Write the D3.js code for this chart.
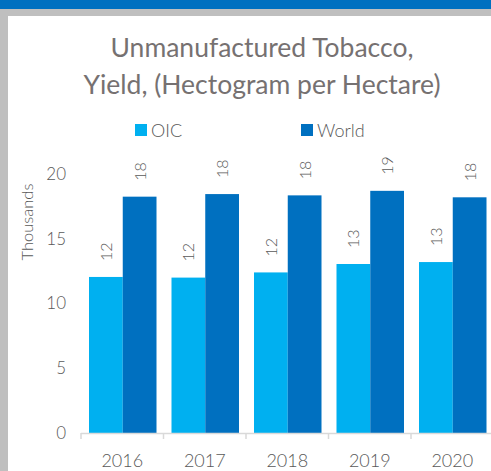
<!DOCTYPE html>
<html><head><meta charset="utf-8">
<script src="https://cdn.jsdelivr.net/npm/d3@7"></script>
<style>body{margin:0;background:#fff}svg{display:block}</style>
</head><body>
<script>
const categories = ["2016","2017","2018","2019","2020"];
const oicValues = [12.05, 12.0, 12.4, 13.05, 13.2];
const worldValues = [18.25, 18.45, 18.35, 18.7, 18.2];
const seriesNames = ["OIC","World"];
const yTicks = [0,5,10,15,20];
const colors = {OIC:"#00B0F0", World:"#0070C0"};

const W=491,H=471;
const svg=d3.select("body").append("svg").attr("width",W).attr("height",H);
const font="Lato, 'Open Sans', sans-serif";
const fw=300;
svg.append("rect").attr("x",0).attr("y",0).attr("width",W).attr("height",H).attr("fill","#BFBFBF");
svg.append("rect").attr("x",0).attr("y",0).attr("width",W).attr("height",9).attr("fill","#0070C0");
svg.append("rect").attr("x",8).attr("y",16).attr("width",W-8).attr("height",H-16).attr("fill","#fff");

const x=d3.scaleBand().domain(categories).range([81,493.5]).paddingInner(0).paddingOuter(0);
const y=d3.scaleLinear().domain([0,20]).range([433,174]);
const inner=d3.scaleBand().domain(seriesNames).range([8,x.bandwidth()-7]);

// title
const title=svg.append("text").attr("text-anchor","middle").attr("fill","#767171").attr("font-family",font).attr("font-weight",400).attr("font-size",26.5);
title.append("tspan").attr("x",262).attr("y",57).text("Unmanufactured Tobacco,");
title.append("tspan").attr("x",262).attr("y",94).text("Yield, (Hectogram per Hectare)");

// legend
const leg=[{n:"OIC",x:135},{n:"World",x:301}];
leg.forEach(l=>{
  svg.append("rect").attr("x",l.x).attr("y",124).attr("width",12).attr("height",12).attr("fill",colors[l.n]);
  svg.append("text").attr("x",l.x+16).attr("y",137).attr("fill","#595959").attr("font-family",font).attr("font-weight",fw).attr("font-size",18).text(l.n);
});

// y axis
const yAxis=d3.axisLeft(y).tickValues(yTicks).tickSize(0).tickPadding(0);
const ga=svg.append("g").attr("transform","translate(66,0)").call(yAxis);
ga.select(".domain").remove();
ga.selectAll("text").attr("fill","#595959").attr("font-family",font).attr("font-weight",fw).attr("font-size",17);

svg.append("text").attr("transform","translate(33,222) rotate(-90)").attr("text-anchor","middle")
  .attr("fill","#595959").attr("font-family",font).attr("font-weight",fw).attr("font-size",16.5).text("Thousands");

// bars
const data=categories.map((c,i)=>({c,vals:[{s:"OIC",v:oicValues[i]},{s:"World",v:worldValues[i]}]}));
const g=svg.append("g");
const grp=g.selectAll("g").data(data).join("g").attr("transform",d=>`translate(${x(d.c)},0)`);
grp.selectAll("rect").data(d=>d.vals).join("rect")
  .attr("x",d=>inner(d.s)).attr("width",inner.bandwidth())
  .attr("y",d=>y(d.v)).attr("height",d=>y(0)-y(d.v)).attr("fill",d=>colors[d.s]);
grp.selectAll("text").data(d=>d.vals).join("text")
  .attr("transform",d=>`translate(${inner(d.s)+inner.bandwidth()/2+6},${y(d.v)-16}) rotate(-90)`)
  .attr("fill","#595959").attr("font-family",font).attr("font-weight",fw).attr("font-size",16).text(d=>d3.format(".0f")(d.v));

// x axis
const xAxis=d3.axisBottom(x).tickSize(0).tickPadding(25);
const gx=svg.append("g").attr("transform","translate(0,433)").call(xAxis);
gx.select(".domain").attr("stroke","#D9D9D9").attr("stroke-width",1.5).attr("d","M81,0.5H493.5");
gx.selectAll("text").attr("fill","#595959").attr("font-family",font).attr("font-weight",fw).attr("font-size",18).attr("dy","0.5em");
categories.concat(["end"]).forEach((c,i)=>{
  const xx=c==="end"?493.5:x(c);
  svg.append("line").attr("x1",xx).attr("x2",xx).attr("y1",433).attr("y2",439).attr("stroke","#D9D9D9").attr("stroke-width",1.5);
});
</script>
</body></html>
